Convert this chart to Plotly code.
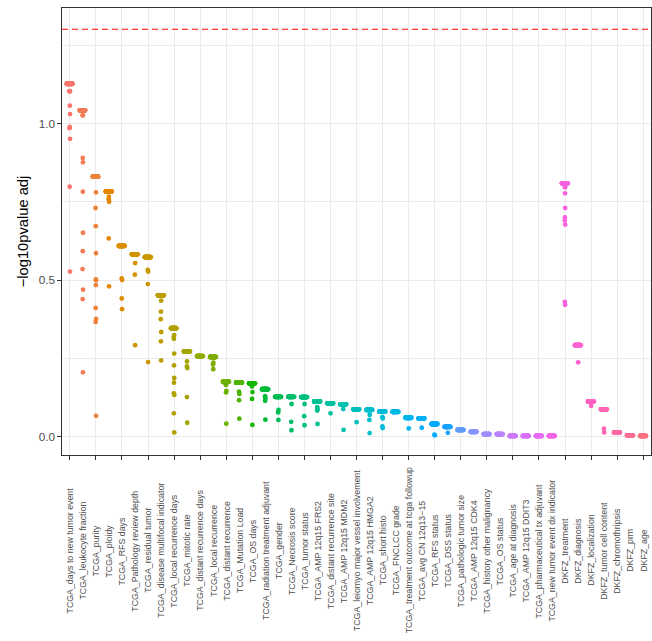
import math
import plotly.graph_objects as go

categories = [
    "TCGA_days to new tumor event", "TCGA_leukocyte fraction", "TCGA_purity", "TCGA_ploidy",
    "TCGA_RFS days", "TCGA_Pathology review depth", "TCGA_residual tumor",
    "TCGA_disease multifocal indicator", "TCGA_local recurrence days", "TCGA_mitotic rate",
    "TCGA_distant recurrence days", "TCGA_local recurrence", "TCGA_distant recurrence",
    "TCGA_Mutation Load", "TCGA_OS days", "TCGA_radiation treatment adjuvant", "TCGA_gender",
    "TCGA_Necrosis score", "TCGA_tumor status", "TCGA_AMP 12q15 FRS2",
    "TCGA_distant recurrence site", "TCGA_AMP 12q15 MDM2", "TCGA_leiomyo major vessel involvement",
    "TCGA_AMP 12q15 HMGA2", "TCGA_short histo", "TCGA_FNCLCC grade",
    "TCGA_treatment outcome at tcga followup", "TCGA_avg CN 12q13\u221215", "TCGA_RFS status",
    "TCGA_DSS status", "TCGA_pathologic tumor size", "TCGA_AMP 12q15 CDK4",
    "TCGA_history other malignancy", "TCGA_OS status", "TCGA_age at diagnosis",
    "TCGA_AMP 12q15 DDIT3", "TCGA_pharmaceutical tx adjuvant", "TCGA_new tumor event dx indicator",
    "DKFZ_treatment", "DKFZ_diagnosis", "DKFZ_localization", "DKFZ_tumor cell content",
    "DKFZ_chromothripsis", "DKFZ_prm", "DKFZ_age",
]

# value shared by the dense horizontal cluster of each category
band_values = [
    1.127, 1.042, 0.830, 0.783, 0.609, 0.582, 0.573, 0.451, 0.346, 0.272,
    0.257, 0.254, 0.175, 0.172, 0.170, 0.151, 0.127, 0.127, 0.126, 0.112,
    0.106, 0.103, 0.087, 0.085, 0.080, 0.079, 0.060, 0.058, 0.040, 0.031,
    0.021, 0.015, 0.008, 0.008, 0.002, 0.002, 0.002, 0.002, 0.809, 0.292,
    0.112, 0.087, 0.013, 0.004, 0.002,
]
# number of points in each dense cluster (estimated)
band_count = 40

# the remaining, sparser points of each category
other_values = [
    [1.103, 1.103, 1.103, 1.057, 1.030, 0.989, 0.985, 0.951, 0.798, 0.527],
    [1.026, 1.026, 0.890, 0.876, 0.782, 0.651, 0.592, 0.535, 0.469, 0.439, 0.205],
    [0.780, 0.730, 0.672, 0.586, 0.502, 0.499, 0.484, 0.411, 0.376, 0.366, 0.066],
    [0.766, 0.758, 0.750, 0.633, 0.480],
    [0.505, 0.500, 0.441, 0.407],
    [0.554, 0.517, 0.292],
    [0.532, 0.527, 0.487, 0.238],
    [0.434, 0.399, 0.375, 0.334, 0.304, 0.243],
    [0.324, 0.318, 0.312, 0.265, 0.227, 0.187, 0.172, 0.138, 0.133, 0.074, 0.013],
    [0.240, 0.224, 0.219, 0.126, 0.044],
    [],
    [0.236, 0.230, 0.215],
    [0.165, 0.146, 0.141, 0.041],
    [0.143, 0.136, 0.116, 0.057],
    [0.160, 0.142, 0.120, 0.037],
    [0.129, 0.122, 0.114, 0.054],
    [0.085, 0.077, 0.053],
    [0.104, 0.047, 0.020],
    [0.104, 0.065, 0.036],
    [0.094, 0.088, 0.083, 0.040],
    [0.074],
    [0.088, 0.021],
    [0.046],
    [0.069, 0.053, 0.011],
    [0.063, 0.058, 0.032, 0.027],
    [],
    [0.026],
    [0.028],
    [0.006, 0.004],
    [0.012],
    [], [], [], [], [], [], [], [],
    [0.798, 0.796, 0.777, 0.730, 0.700, 0.690, 0.677, 0.430, 0.421],
    [0.237],
    [0.098],
    [0.025, 0.013],
    [], [], [],
]

y_tick_values = [0.0, 0.5, 1.0]
y_tick_labels = ["0.0", "0.5", "1.0"]
threshold = -math.log10(0.05)


def hcl_to_hex(h, c=100.0, l=65.0):
    hr = math.radians(h)
    U, V = c * math.cos(hr), c * math.sin(hr)
    Xn, Yn, Zn = 95.047, 100.0, 108.883
    den = Xn + 15 * Yn + 3 * Zn
    un, vn = 4 * Xn / den, 9 * Yn / den
    Y = Yn * ((l + 16) / 116) ** 3
    u = U / (13 * l) + un
    v = V / (13 * l) + vn
    X = 9.0 * Y * u / (4 * v)
    Z = -X / 3 - 5 * Y + 3 * Y / v
    X, Y, Z = X / 100, Y / 100, Z / 100
    r = 3.240479 * X - 1.537150 * Y - 0.498535 * Z
    g = -0.969256 * X + 1.875992 * Y + 0.041556 * Z
    b = 0.055648 * X - 0.204043 * Y + 1.057311 * Z

    def gam(t):
        t = 12.92 * t if t <= 0.0031308 else 1.055 * t ** (1 / 2.4) - 0.055
        return int(round(min(max(t, 0), 1) * 255))

    return "#%02X%02X%02X" % (gam(r), gam(g), gam(b))


n = len(categories)
colors = [hcl_to_hex(15 + 360.0 * i / n) for i in range(n)]

fig = go.Figure()
for i, cat in enumerate(categories):
    ys = [band_values[i]] * band_count + other_values[i]
    fig.add_trace(go.Box(
        x=[cat] * len(ys), y=ys,
        boxpoints="all", jitter=1, pointpos=0,
        fillcolor="rgba(0,0,0,0)",
        line=dict(width=0, color="rgba(0,0,0,0)"),
        whiskerwidth=0,
        marker=dict(color=colors[i], size=4.8, line=dict(width=0)),
        showlegend=False, hoverinfo="y",
    ))

fig.add_shape(type="line", xref="paper", x0=0, x1=1, yref="y", y0=threshold, y1=threshold,
              line=dict(color="#FF0000", width=1.1, dash="6px,4px"))

for cat in categories:
    fig.add_annotation(x=cat, xref="x", y=-0.214, yref="paper", text=cat, textangle=-90,
                       showarrow=False, xanchor="center", yanchor="middle",
                       font=dict(size=8.8, color="#4D4D4D"))

fig.update_layout(
    width=652, height=641,
    margin=dict(l=62, r=1, t=8, b=186, autoexpand=False),
    paper_bgcolor="white", plot_bgcolor="white",
    font=dict(family="Liberation Sans, Arial, sans-serif", color="#4D4D4D"),
    boxmode="overlay", boxgap=0.3,
    xaxis=dict(
        type="category", categoryorder="array", categoryarray=categories,
        range=[-0.6, n - 0.4], showticklabels=False,
        ticks="outside", ticklen=3.7, tickcolor="#333333", tickwidth=1,
        showgrid=True, gridcolor="#EBEBEB", gridwidth=1.07,
        showline=True, linecolor="#333333", linewidth=1.1, mirror=True, zeroline=False,
    ),
    yaxis=dict(
        range=[-0.059, 1.369], tickmode="array", tickvals=y_tick_values, ticktext=y_tick_labels,
        ticks="outside", ticklen=3.7, tickcolor="#333333", tickwidth=1,
        tickfont=dict(size=11.7, color="#4D4D4D"),
        showgrid=True, gridcolor="#EBEBEB", gridwidth=1.07,
        minor=dict(tickvals=[0.25, 0.75, 1.25], showgrid=True, gridcolor="#EBEBEB",
                   gridwidth=0.55, ticks=""),
        showline=True, linecolor="#333333", linewidth=1.1, mirror=True, zeroline=False,
        title=dict(text="\u2212log10pvalue adj", font=dict(size=14.7, color="black"), standoff=6),
    ),
)

fig.write_html("out.html", config={"displayModeBar": False},
               post_script="document.body.style.margin='0px';document.body.style.overflow='hidden';")
